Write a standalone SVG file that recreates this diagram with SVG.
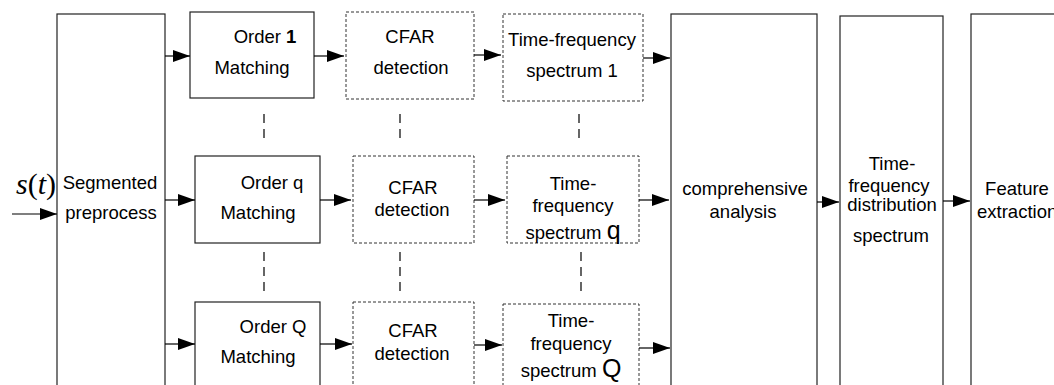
<svg xmlns="http://www.w3.org/2000/svg" width="1054" height="385" viewBox="0 0 1054 385">
<style>
.box{fill:#fff;stroke:#222;stroke-width:1.2}
.dbox{fill:#fff;stroke:#333;stroke-width:1;stroke-dasharray:3,2}
.t{font-family:"Liberation Sans",Arial,sans-serif;font-size:18.5px;fill:#000;text-anchor:middle}
.ts{text-anchor:start}
.c{stroke:#000;stroke-width:1.2;fill:none}
.dl{stroke:#000;stroke-width:1.2;stroke-dasharray:9,6;fill:none}
</style>
<defs>
<marker id="ah" markerUnits="userSpaceOnUse" markerWidth="17" markerHeight="12" refX="17" refY="6" orient="auto">
<path d="M0,0 L17,6 L0,12 z" fill="#000"/>
</marker>
</defs>
<rect width="1054" height="385" fill="#fff"/>
<g id="input">
<text x="16" y="194" font-family="Liberation Serif,Times New Roman,serif" font-size="30"><tspan font-style="italic">s</tspan>(<tspan font-style="italic">t</tspan>)</text>
</g>
<g id="segmented">
<rect class="box" x="57" y="14" width="108" height="400"/>
<text class="t" x="110" y="189">Segmented</text>
<text class="t" x="111" y="219">preprocess</text>
</g>
<g id="order1">
<rect class="box" x="190" y="12" width="124" height="86"/>
<text class="t" x="265" y="43">Order <tspan font-weight="bold">1</tspan></text>
<text class="t" x="252" y="74">Matching</text>
</g>
<g id="orderq">
<rect class="box" x="195" y="156" width="125" height="87"/>
<text class="t" x="272" y="189">Order q</text>
<text class="t" x="258" y="219">Matching</text>
</g>
<g id="orderQ">
<rect class="box" x="195" y="302" width="125" height="120"/>
<text class="t" x="273" y="333">Order Q</text>
<text class="t" x="258" y="363">Matching</text>
</g>
<g id="cfar1">
<rect class="dbox" x="346" y="12" width="128" height="87"/>
<text class="t" x="410" y="43">CFAR</text>
<text class="t" x="411" y="74">detection</text>
</g>
<g id="cfarq">
<rect class="dbox" x="353" y="156" width="121" height="87"/>
<text class="t" x="413" y="194">CFAR</text>
<text class="t" x="412" y="216">detection</text>
</g>
<g id="cfarQ">
<rect class="dbox" x="353" y="302" width="121" height="120"/>
<text class="t" x="413" y="337">CFAR</text>
<text class="t" x="412" y="360">detection</text>
</g>
<g id="tf1">
<rect class="dbox" x="503" y="14" width="140" height="87"/>
<text class="t" x="572" y="46">Time-frequency</text>
<text class="t" x="572" y="77">spectrum 1</text>
</g>
<g id="tfq">
<rect class="dbox" x="507" y="156" width="132" height="87"/>
<text class="t" x="573" y="190">Time-</text>
<text class="t" x="573" y="212">frequency</text>
<text class="t" x="573" y="239">spectrum <tspan font-size="25">q</tspan></text>
</g>
<g id="tfQ">
<rect class="dbox" x="503" y="304" width="136" height="120"/>
<text class="t" x="571" y="327">Time-</text>
<text class="t" x="571" y="350">frequency</text>
<text class="t" x="571" y="377">spectrum <tspan font-size="25">Q</tspan></text>
</g>
<g id="comprehensive">
<rect class="box" x="671" y="14" width="146" height="400"/>
<text class="t" x="745" y="195">comprehensive</text>
<text class="t" x="743" y="218">analysis</text>
</g>
<g id="tfdist">
<rect class="box" x="840" y="16" width="103" height="400"/>
<text class="t" x="892" y="170">Time-</text>
<text class="t" x="889" y="192">frequency</text>
<text class="t" x="892" y="211">distribution</text>
<text class="t" x="891" y="242">spectrum</text>
</g>
<g id="feature">
<rect class="box" x="971" y="14" width="120" height="400"/>
<text class="t" x="1017" y="195">Feature</text>
<text class="t ts" x="977" y="218">extraction</text>
</g>
<g id="connectors">
<line class="c" x1="12" y1="214" x2="57" y2="214" marker-end="url(#ah)"/>
<line class="c" x1="165" y1="56" x2="190" y2="56" marker-end="url(#ah)"/>
<line class="c" x1="165" y1="200" x2="195" y2="200" marker-end="url(#ah)"/>
<line class="c" x1="165" y1="344" x2="195" y2="344" marker-end="url(#ah)"/>
<line class="c" x1="314" y1="56" x2="344" y2="56" marker-end="url(#ah)"/>
<line class="c" x1="320" y1="200" x2="351" y2="200" marker-end="url(#ah)"/>
<line class="c" x1="320" y1="344" x2="352" y2="344" marker-end="url(#ah)"/>
<line class="c" x1="474" y1="55" x2="501" y2="55" marker-end="url(#ah)"/>
<line class="c" x1="474" y1="200" x2="505" y2="200" marker-end="url(#ah)"/>
<line class="c" x1="474" y1="345" x2="502" y2="345" marker-end="url(#ah)"/>
<line class="c" x1="643" y1="58" x2="670" y2="58" marker-end="url(#ah)"/>
<line class="c" x1="639" y1="200" x2="669" y2="200" marker-end="url(#ah)"/>
<line class="c" x1="639" y1="348" x2="670" y2="348" marker-end="url(#ah)"/>
<line class="c" x1="817" y1="202" x2="839" y2="202" marker-end="url(#ah)"/>
<line class="c" x1="943" y1="201" x2="970" y2="201" marker-end="url(#ah)"/>
<line class="dl" x1="264" y1="114" x2="264" y2="140"/>
<line class="dl" x1="264" y1="252" x2="264" y2="296"/>
<line class="dl" x1="400" y1="114" x2="400" y2="140"/>
<line class="dl" x1="400" y1="252" x2="400" y2="296"/>
<line class="dl" x1="579" y1="114" x2="579" y2="140"/>
<line class="dl" x1="581" y1="252" x2="581" y2="294"/>
</g>
</svg>
